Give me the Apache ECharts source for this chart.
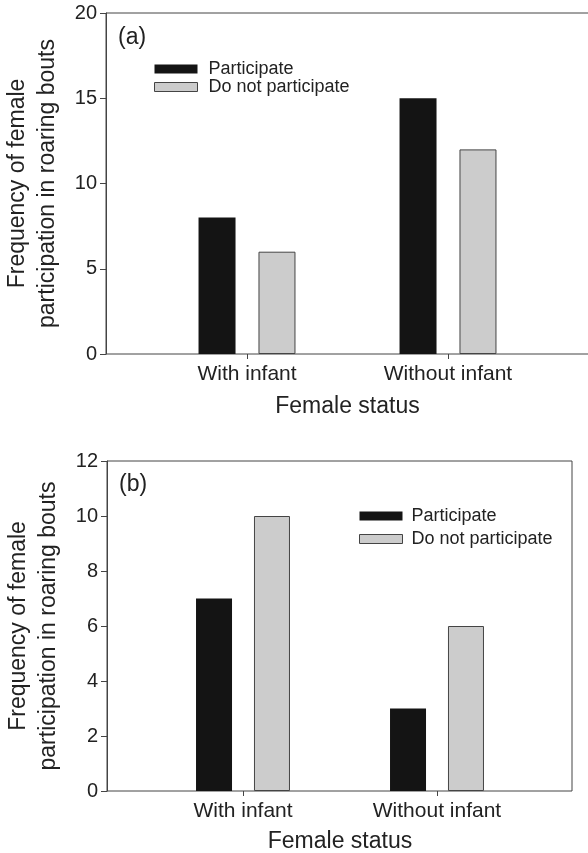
<!DOCTYPE html>
<html>
<head>
<meta charset="utf-8">
<script src="https://cdn.jsdelivr.net/npm/echarts@6/dist/echarts.min.js"></script>
<style>
  html, body { margin: 0; padding: 0; background: #fff; }
  #chart { width: 588px; height: 853px; }
</style>
</head>
<body>
<div id="chart"></div>
<script>
// values
const categories = ['With infant', 'Without infant'];
const participateA = [8, 15];
const notParticipateA = [6, 12];
const participateB = [7, 3];
const notParticipateB = [10, 6];
const yRangeA = [0, 20, 5];   // min, max, interval
const yRangeB = [0, 12, 2];

const FONT = 'Liberation Sans, Arial, Helvetica, sans-serif';
const INK = '#222';
const LINE = '#444';
const BLACK = '#141414';
const GREY = '#cccccc';
const yTitle = 'Frequency of female\nparticipation in roaring bouts';

const chart = echarts.init(document.getElementById('chart'));

// outer grid draws the frame and the y axis, inner grid holds the categories
function outerGrid(left, top, width, height) {
  return { left, top, width, height, show: true, borderColor: LINE, borderWidth: 1,
           backgroundColor: 'transparent', outerBoundsMode: 'none', containLabel: false };
}
function innerGrid(left, top, width, height) {
  return { left, top, width, height, outerBoundsMode: 'none', containLabel: false };
}

function yAxisOuter(gridIndex, range) {
  return {
    type: 'value', gridIndex, min: range[0], max: range[1], interval: range[2],
    axisLine: { show: true, lineStyle: { color: LINE, width: 1 } },
    axisTick: { show: true, inside: false, length: 6, lineStyle: { color: LINE } },
    axisLabel: { color: INK, fontSize: 20, fontFamily: FONT, margin: 9 },
    splitLine: { show: false },
    name: yTitle, nameLocation: 'middle', nameRotate: 90, nameGap: 43,
    nameTextStyle: { color: INK, fontSize: 23, fontFamily: FONT, lineHeight: 30 }
  };
}
function yAxisInner(gridIndex, range) {
  return { type: 'value', gridIndex, min: range[0], max: range[1], interval: range[2], show: false };
}
function xAxisOuter(gridIndex) {
  return { type: 'value', gridIndex, min: 0, max: 1, show: false };
}
function xAxisInner(gridIndex, nameGap) {
  return {
    type: 'category', gridIndex, data: categories,
    axisLine: { show: false },
    axisTick: { show: true, alignWithLabel: true, length: 5, lineStyle: { color: LINE } },
    axisLabel: { color: INK, fontSize: 21, fontFamily: FONT, margin: 10 },
    name: 'Female status', nameLocation: 'middle', nameGap,
    nameTextStyle: { color: INK, fontSize: 23, fontFamily: FONT }
  };
}

function bars(name, data, axisIndex, color, border, width, gap) {
  return {
    type: 'bar', name, data, xAxisIndex: axisIndex, yAxisIndex: axisIndex,
    barWidth: width, barGap: gap,
    itemStyle: { color, borderColor: border, borderWidth: border ? 1 : 0 },
    emphasis: { disabled: true }
  };
}

function legend(left, top, gap, textPad) {
  return {
    left, top, orient: 'vertical', padding: 0, itemWidth: 43, itemHeight: 9, itemGap: gap,
    icon: 'rect', selectedMode: false,
    textStyle: { color: INK, fontSize: 18, fontFamily: FONT, padding: [0, 0, 0, textPad] },
    data: [
      { name: 'Participate', itemStyle: { color: BLACK, borderWidth: 0 } },
      { name: 'Do not participate', itemStyle: { color: GREY, borderColor: LINE, borderWidth: 1 } }
    ]
  };
}

chart.setOption({
  animation: false,
  backgroundColor: '#fff',
  grid: [
    outerGrid(106, 13, 486, 341),
    innerGrid(146.5, 13, 402, 341),
    outerGrid(107, 461, 465, 330),
    innerGrid(146, 461, 388, 330)
  ],
  xAxis: [xAxisOuter(0), xAxisInner(1, 41), xAxisOuter(2), xAxisInner(3, 39)],
  yAxis: [yAxisOuter(0, yRangeA), yAxisInner(1, yRangeA), yAxisOuter(2, yRangeB), yAxisInner(3, yRangeB)],
  legend: [legend(154, 60, 0, 6), legend(359, 507, 5, 4)],
  series: [
    bars('Participate', participateA, 1, BLACK, null, 37, '62%'),
    bars('Do not participate', notParticipateA, 1, GREY, LINE, 37, '62%'),
    bars('Participate', participateB, 3, BLACK, null, 36, '61%'),
    bars('Do not participate', notParticipateB, 3, GREY, LINE, 36, '61%')
  ],
  graphic: [
    { type: 'text', left: 118, top: 26, style: { text: '(a)', fontSize: 23, fontFamily: FONT, fill: INK } },
    { type: 'text', left: 119, top: 473, style: { text: '(b)', fontSize: 23, fontFamily: FONT, fill: INK } }
  ]
});
</script>
</body>
</html>
